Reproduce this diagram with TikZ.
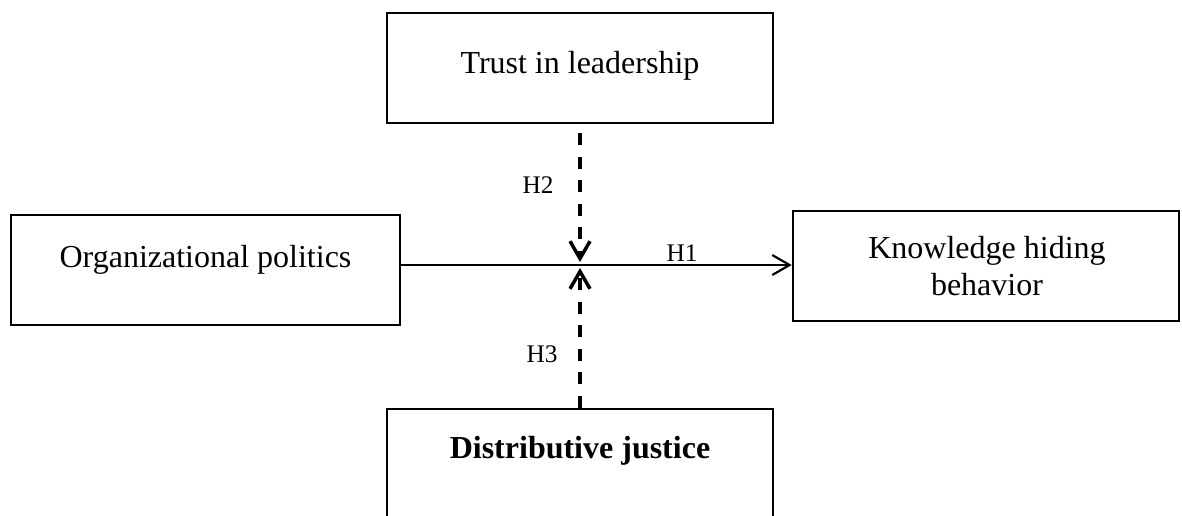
\documentclass[tikz,border=0pt]{standalone}
\usepackage{fontspec}
\setmainfont{Liberation Serif}
\usetikzlibrary{arrows.meta, positioning}

\tikzset{
  box/.style={draw, line width=1.9pt, minimum width=#1, minimum height=82.5pt, inner sep=0pt},
  boxtext/.style={anchor=base, inner sep=0pt, align=center, font=\fontsize{24pt}{27.75pt}\selectfont},
  hyp/.style={anchor=base, inner sep=0pt, font=\fontsize{19pt}{22pt}\selectfont},
  barb/.style={-{Straight Barb[length=13pt,width=15pt]}},
  moderate/.style={barb, line width=2.6pt, dash pattern=on 9pt off 8.6pt}
}

\begin{document}
\begin{tikzpicture}[x=0.75pt, y=-0.75pt]
  \useasboundingbox (0,0) rectangle (1182,515);

  % boxes
  \node[box=291.75pt] (op) at (205.5,270) {};
  \node[box=289.5pt]  (kh) at (986,266) {};
  \node[box=289.5pt]  (tl) at (580,68) {};
  \node[box=289.5pt]  (dj) at (580,464) {};

  % box texts
  \node[boxtext] (optext) at (205.5,267) {Organizational politics};
  \node[boxtext] (khtext) at (987,295) {Knowledge hiding\\behavior};
  \node[boxtext] (tltext) at (580,73) {Trust in leadership};
  \node[boxtext] (djtext) at (580,458) {\bfseries Distributive justice};

  % meeting points on the main path
  \coordinate (mid) at (580,265);
  \coordinate (m2) at (580,262);
  \coordinate (m3) at (580,268);

  % paths
  \draw[barb, line width=1.6pt] (op.east |- mid) -- (kh.west |- mid);
  \draw[moderate, dash phase=10.9pt] (tl.south) -- (m2);
  \draw[moderate] (dj.north) -- (m3);

  % hypotheses
  \node[hyp] (h1) at (682,261) {H1};
  \node[hyp] (h2) at (538,193) {H2};
  \node[hyp] (h3) at (542,362) {H3};
\end{tikzpicture}
\end{document}
